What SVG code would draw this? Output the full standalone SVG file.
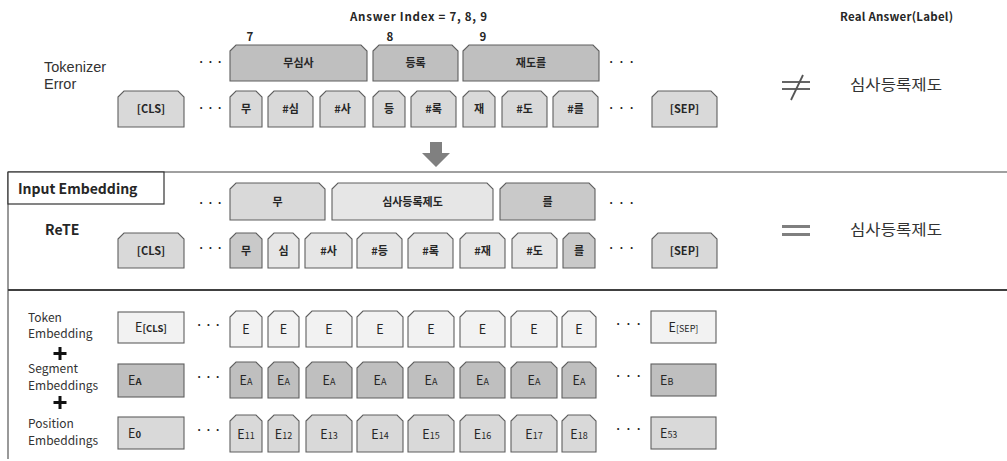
<svg xmlns="http://www.w3.org/2000/svg" width="1007" height="461" viewBox="0 0 1007 461">
<style>
text{font-family:"Noto Sans CJK KR","Noto Sans",sans-serif;fill:#262626}
.bx{stroke:#5f5f5f;stroke-width:1.1}
.d{fill:#bfbfbf}.m{fill:#d9d9d9}.l{fill:#e6e6e6}.k{fill:#c9c9c9}.w{fill:#f2f2f2}
.t{font-size:11px;font-weight:bold;text-anchor:middle}
.e{font-size:12.5px;text-anchor:middle}
.s{font-size:9px}
.lab{font-size:14.5px;fill:#333;font-family:"Liberation Sans",Arial,sans-serif}
.ans{font-size:15px;fill:#333}
.sm{font-size:12px;fill:#333}
.dots{font-size:15px;fill:#222}
.hd{font-size:11.5px;font-weight:bold}
.plus{fill:#111}
</style>
<rect width="1007" height="461" fill="#fff"/>

<!-- headers -->
<text class="hd" x="350" y="21" textLength="137" lengthAdjust="spacing">Answer Index = 7, 8, 9</text>
<text class="hd" x="840" y="21" textLength="113" lengthAdjust="spacing">Real Answer(Label)</text>

<!-- section 1 -->
<g id="tokenizer-error-label">
<text class="lab" x="44" y="72">Tokenizer</text>
<text class="lab" x="44" y="89">Error</text>
</g>
<g id="idx"><text class="hd" x="250" y="41" text-anchor="middle">7</text><text class="hd" x="390" y="41" text-anchor="middle">8</text><text class="hd" x="483" y="41" text-anchor="middle">9</text></g>
<g id="te-dots">
<text class="dots" x="197" y="67" textLength="27" lengthAdjust="spacing">· · ·</text>
<text class="dots" x="607" y="67" textLength="29" lengthAdjust="spacing">· · ·</text>
<text class="dots" x="197" y="113" textLength="27" lengthAdjust="spacing">· · ·</text>
<text class="dots" x="607" y="113" textLength="29" lengthAdjust="spacing">· · ·</text>
</g>
<g id="te-musimsa"><path class="bx d" d="M230,51 L236,45 H361 L367,51 V81 H230 Z"/><text class="t" x="298.5" y="67">무심사</text></g>
<g id="te-deungrok"><path class="bx d" d="M373,51 L379,45 H452 L458,51 V81 H373 Z"/><text class="t" x="415.5" y="67">등록</text></g>
<g id="te-jaedoreul"><path class="bx d" d="M463,51 L469,45 H593 L599,51 V81 H463 Z"/><text class="t" x="531" y="67">재도를</text></g>

<g id="te-cls"><path class="bx m" d="M118,97 L124,91 H178 L184,97 V127 H118 Z"/><text class="t" x="151" y="113">[CLS]</text></g>
<g id="te-mu"><path class="bx m" d="M230,97 L236,91 H256 L262,97 V127 H230 Z"/><text class="t" x="246" y="113">무</text></g>
<g id="te-sim"><path class="bx m" d="M268,97 L274,91 H307 L313,97 V127 H268 Z"/><text class="t" x="290.5" y="113">#심</text></g>
<g id="te-sa"><path class="bx m" d="M320,97 L326,91 H359 L365,97 V127 H320 Z"/><text class="t" x="342.5" y="113">#사</text></g>
<g id="te-deung"><path class="bx m" d="M373,97 L379,91 H399 L405,97 V127 H373 Z"/><text class="t" x="389" y="113">등</text></g>
<g id="te-rok"><path class="bx m" d="M411,97 L417,91 H450 L456,97 V127 H411 Z"/><text class="t" x="433.5" y="113">#록</text></g>
<g id="te-jae"><path class="bx m" d="M463,97 L469,91 H489 L495,97 V127 H463 Z"/><text class="t" x="479" y="113">재</text></g>
<g id="te-do"><path class="bx m" d="M502,97 L508,91 H541 L547,97 V127 H502 Z"/><text class="t" x="524.5" y="113">#도</text></g>
<g id="te-reul"><path class="bx m" d="M553,97 L559,91 H592 L598,97 V127 H553 Z"/><text class="t" x="575.5" y="113">#를</text></g>
<g id="te-sep"><path class="bx m" d="M652,97 L658,91 H711 L717,97 V127 H652 Z"/><text class="t" x="684.5" y="113">[SEP]</text></g>

<g id="neq" stroke="#555" stroke-width="1.8" fill="none">
<line x1="782" y1="82" x2="810" y2="82"/><line x1="782" y1="89" x2="810" y2="89"/><line x1="803" y1="75" x2="791" y2="100"/>
</g>
<g id="answer1"><text class="ans" x="850" y="90" textLength="92" lengthAdjust="spacingAndGlyphs">심사등록제도</text></g>

<g id="down-arrow"><polygon points="430,142 442,142 442,153 450,153 436,167 422,153 430,153" fill="#808080"/></g>

<!-- section 2 -->
<g id="frame" fill="none">
<line x1="8" y1="172" x2="1007" y2="172" stroke="#808080" stroke-width="1.5"/>
<line x1="8" y1="172" x2="8" y2="459" stroke="#555" stroke-width="1.2"/>
<line x1="8" y1="290" x2="1007" y2="290" stroke="#404040" stroke-width="2"/>
</g>
<g id="input-embedding"><rect x="8" y="172" width="156" height="32" fill="#fff" stroke="#333" stroke-width="1.2"/><text x="18" y="194" font-size="14" font-weight="bold" fill="#1a1a1a">Input Embedding</text></g>
<g id="rete-label"><text x="45" y="235" font-size="14" font-weight="bold" fill="#1a1a1a">ReTE</text></g>
<g id="re-dots">
<text class="dots" x="197" y="208" textLength="27" lengthAdjust="spacing">· · ·</text>
<text class="dots" x="607" y="208" textLength="29" lengthAdjust="spacing">· · ·</text>
<text class="dots" x="197" y="253" textLength="27" lengthAdjust="spacing">· · ·</text>
<text class="dots" x="607" y="253" textLength="29" lengthAdjust="spacing">· · ·</text>
</g>
<g id="re-mu-w"><path class="bx m" d="M230,189 L236,183 H319 L325,189 V220 H230 Z"/><text class="t" x="277.5" y="206">무</text></g>
<g id="re-simsa"><path class="bx l" d="M332,189 L338,183 H487 L493,189 V220 H332 Z"/><text class="t" x="412.5" y="206">심사등록제도</text></g>
<g id="re-reul-w"><path class="bx k" d="M500,189 L506,183 H589 L595,189 V220 H500 Z"/><text class="t" x="547.5" y="206">를</text></g>

<g id="re-cls"><path class="bx m" d="M118,239 L124,233 H178 L184,239 V268 H118 Z"/><text class="t" x="151" y="255">[CLS]</text></g>
<g id="re-mu"><path class="bx k" d="M230,239 L236,233 H256 L262,239 V268 H230 Z"/><text class="t" x="246" y="255">무</text></g>
<g id="re-sim"><path class="bx l" d="M268,239 L274,233 H293 L299,239 V268 H268 Z"/><text class="t" x="283.5" y="255">심</text></g>
<g id="re-sa"><path class="bx l" d="M305,239 L311,233 H346 L352,239 V268 H305 Z"/><text class="t" x="328.5" y="255">#사</text></g>
<g id="re-deung"><path class="bx l" d="M357,239 L363,233 H396 L402,239 V268 H357 Z"/><text class="t" x="379.5" y="255">#등</text></g>
<g id="re-rok"><path class="bx l" d="M408,239 L414,233 H447 L453,239 V268 H408 Z"/><text class="t" x="430.5" y="255">#록</text></g>
<g id="re-jae"><path class="bx l" d="M460,239 L466,233 H499 L505,239 V268 H460 Z"/><text class="t" x="482.5" y="255">#재</text></g>
<g id="re-do"><path class="bx l" d="M512,239 L518,233 H551 L557,239 V268 H512 Z"/><text class="t" x="534.5" y="255">#도</text></g>
<g id="re-reul"><path class="bx k" d="M563,239 L569,233 H589 L595,239 V268 H563 Z"/><text class="t" x="579" y="255">를</text></g>
<g id="re-sep"><path class="bx m" d="M652,239 L658,233 H711 L717,239 V268 H652 Z"/><text class="t" x="684.5" y="255">[SEP]</text></g>

<g id="eq" fill="#7f7f7f"><rect x="782" y="225" width="28" height="3"/><rect x="782" y="233" width="28" height="3"/></g>
<g id="answer2"><text class="ans" x="850" y="235" textLength="92" lengthAdjust="spacingAndGlyphs">심사등록제도</text></g>

<!-- section 3 -->
<g id="emb-labels">
<text class="sm" x="28" y="322">Token</text>
<text class="sm" x="28" y="338">Embedding</text>
<text class="sm" x="28" y="373">Segment</text>
<text class="sm" x="28" y="390">Embeddings</text>
<text class="sm" x="28" y="428">Position</text>
<text class="sm" x="28" y="445">Embeddings</text>
</g>
<g id="plus-signs" class="plus">
<rect x="53.5" y="352" width="13" height="3"/><rect x="58.5" y="347" width="3" height="13"/>
<rect x="53.5" y="401" width="13" height="3"/><rect x="58.5" y="396" width="3" height="13"/>
</g>
<g id="emb-dots">
<text class="dots" x="195" y="330" textLength="27" lengthAdjust="spacing">· · ·</text>
<text class="dots" x="614" y="329" textLength="29" lengthAdjust="spacing">· · ·</text>
<text class="dots" x="195" y="382" textLength="27" lengthAdjust="spacing">· · ·</text>
<text class="dots" x="614" y="381" textLength="29" lengthAdjust="spacing">· · ·</text>
<text class="dots" x="195" y="435" textLength="27" lengthAdjust="spacing">· · ·</text>
<text class="dots" x="614" y="434" textLength="29" lengthAdjust="spacing">· · ·</text>
</g>

<g id="tok-cls"><rect class="bx w" x="118" y="312" width="66" height="31"/><text class="e" x="151" y="332">E<tspan font-size="9.5" font-weight="bold">[CLS]</tspan></text></g>
<g id="tok-1"><path class="bx w" d="M230,317 L236,311 H256 L262,317 V347 H230 Z"/><text class="e" x="246" y="334">E</text></g>
<g id="tok-2"><path class="bx w" d="M268,317 L274,311 H293 L299,317 V347 H268 Z"/><text class="e" x="283.5" y="334">E</text></g>
<g id="tok-3"><path class="bx w" d="M306,317 L312,311 H346 L352,317 V347 H306 Z"/><text class="e" x="329" y="334">E</text></g>
<g id="tok-4"><path class="bx w" d="M357,317 L363,311 H397 L403,317 V347 H357 Z"/><text class="e" x="380" y="334">E</text></g>
<g id="tok-5"><path class="bx w" d="M408,317 L414,311 H448 L454,317 V347 H408 Z"/><text class="e" x="431" y="334">E</text></g>
<g id="tok-6"><path class="bx w" d="M460,317 L466,311 H499 L505,317 V347 H460 Z"/><text class="e" x="482.5" y="334">E</text></g>
<g id="tok-7"><path class="bx w" d="M511,317 L517,311 H551 L557,317 V347 H511 Z"/><text class="e" x="534" y="334">E</text></g>
<g id="tok-8"><path class="bx w" d="M562,317 L568,311 H590 L596,317 V347 H562 Z"/><text class="e" x="579" y="334">E</text></g>
<g id="tok-sep"><rect class="bx w" x="651" y="311" width="65" height="32"/><text class="e" x="683.5" y="332">E<tspan class="s">[SEP]</tspan></text></g>

<g id="seg-a"><rect class="bx d" x="118" y="364" width="66" height="33"/><text x="128" y="385" font-size="12.5">E<tspan font-size="9.5" font-weight="bold">A</tspan></text></g>
<g id="seg-1"><path class="bx d" d="M230,368 L236,362 H256 L262,368 V398 H230 Z"/><text class="e" x="246" y="385">E<tspan class="s">A</tspan></text></g>
<g id="seg-2"><path class="bx d" d="M268,368 L274,362 H293 L299,368 V398 H268 Z"/><text class="e" x="283.5" y="385">E<tspan class="s">A</tspan></text></g>
<g id="seg-3"><path class="bx d" d="M306,368 L312,362 H346 L352,368 V398 H306 Z"/><text class="e" x="329" y="385">E<tspan class="s">A</tspan></text></g>
<g id="seg-4"><path class="bx d" d="M357,368 L363,362 H397 L403,368 V398 H357 Z"/><text class="e" x="380" y="385">E<tspan class="s">A</tspan></text></g>
<g id="seg-5"><path class="bx d" d="M408,368 L414,362 H448 L454,368 V398 H408 Z"/><text class="e" x="431" y="385">E<tspan class="s">A</tspan></text></g>
<g id="seg-6"><path class="bx d" d="M460,368 L466,362 H499 L505,368 V398 H460 Z"/><text class="e" x="482.5" y="385">E<tspan class="s">A</tspan></text></g>
<g id="seg-7"><path class="bx d" d="M511,368 L517,362 H551 L557,368 V398 H511 Z"/><text class="e" x="534" y="385">E<tspan class="s">A</tspan></text></g>
<g id="seg-8"><path class="bx d" d="M562,368 L568,362 H590 L596,368 V398 H562 Z"/><text class="e" x="579" y="385">E<tspan class="s">A</tspan></text></g>
<g id="seg-b"><rect class="bx d" x="651" y="364" width="65" height="32"/><text x="660" y="385" font-size="12.5">E<tspan class="s">B</tspan></text></g>

<g id="pos-0"><rect class="bx m" x="118" y="417" width="66" height="32"/><text x="128" y="438" font-size="12.5">E<tspan font-size="9.5" font-weight="bold">0</tspan></text></g>
<g id="pos-11"><path class="bx m" d="M230,421 L236,415 H256 L262,421 V452 H230 Z"/><text class="e" x="246" y="439">E<tspan class="s">11</tspan></text></g>
<g id="pos-12"><path class="bx m" d="M268,421 L274,415 H293 L299,421 V452 H268 Z"/><text class="e" x="283.5" y="439">E<tspan class="s">12</tspan></text></g>
<g id="pos-13"><path class="bx m" d="M306,421 L312,415 H346 L352,421 V452 H306 Z"/><text class="e" x="329" y="439">E<tspan class="s">13</tspan></text></g>
<g id="pos-14"><path class="bx m" d="M357,421 L363,415 H397 L403,421 V452 H357 Z"/><text class="e" x="380" y="439">E<tspan class="s">14</tspan></text></g>
<g id="pos-15"><path class="bx m" d="M408,421 L414,415 H448 L454,421 V452 H408 Z"/><text class="e" x="431" y="439">E<tspan class="s">15</tspan></text></g>
<g id="pos-16"><path class="bx m" d="M460,421 L466,415 H499 L505,421 V452 H460 Z"/><text class="e" x="482.5" y="439">E<tspan class="s">16</tspan></text></g>
<g id="pos-17"><path class="bx m" d="M511,421 L517,415 H551 L557,421 V452 H511 Z"/><text class="e" x="534" y="439">E<tspan class="s">17</tspan></text></g>
<g id="pos-18"><path class="bx m" d="M562,421 L568,415 H590 L596,421 V452 H562 Z"/><text class="e" x="579" y="439">E<tspan class="s">18</tspan></text></g>
<g id="pos-53"><rect class="bx m" x="651" y="417" width="65" height="32"/><text x="660" y="438" font-size="12.5">E<tspan class="s">53</tspan></text></g>

<g id="connectors"></g>
</svg>
